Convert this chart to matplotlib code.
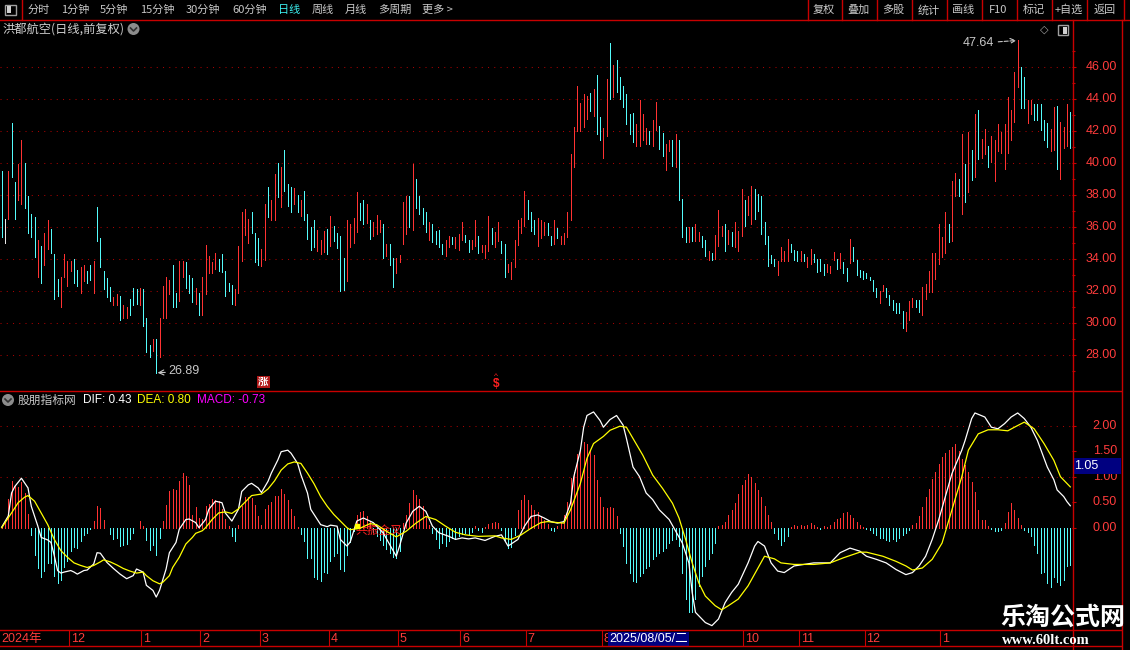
import matplotlib
matplotlib.use("Agg")
import matplotlib.pyplot as plt
from matplotlib.patches import Rectangle, Circle

plt.rcParams['font.family'] = ['Noto Sans CJK SC', 'DejaVu Sans']

# ---- daily bars: high / low / direction (1 up, -1 down, 0 flat) ----
high = [39.5, 36.5, 39.5, 42.5, 38.8, 39.9, 41.4, 40.0, 37.9, 36.8,
        36.6, 35.2, 34.8, 35.6, 36.4, 35.9, 34.3, 32.75, 32.9, 34.3,
        33.9, 33.9, 34.0, 33.3, 33.5, 33.6, 33.25, 33.6, 33.85, 37.25,
        35.3, 33.25, 32.8, 32.25, 31.6, 31.8, 31.7, 31.1, 31.0, 31.5,
        32.2, 32.1, 32.2, 32.1, 30.3, 28.6, 29.0, 29.0, 30.3, 32.3,
        32.9, 32.7, 33.6, 31.9, 33.9, 33.9, 33.8, 33.0, 32.8, 32.2,
        31.9, 32.9, 34.9, 34.2, 33.8, 34.4, 34.0, 34.3, 33.25, 32.5,
        32.4, 32.1, 34.8, 36.9, 37.1, 36.5, 36.9, 35.6, 35.3, 34.62,
        37.40, 38.52, 37.65, 39.31, 39.98, 39.73, 40.83, 38.65, 38.52, 38.40,
        38.02, 37.65, 38.27, 36.83, 36.02, 36.46, 35.81, 35.21, 35.77, 35.90,
        36.65, 36.08, 35.65, 35.46, 34.08, 36.46, 36.21, 36.58, 38.15, 37.52,
        37.65, 37.40, 36.46, 36.33, 36.77, 36.40, 36.21, 34.96, 34.96, 34.08,
        34.08, 34.27, 37.58, 37.96, 37.96, 39.90, 38.96, 37.90, 37.15, 36.96,
        36.33, 36.15, 35.77, 35.83, 34.96, 35.21, 35.46, 35.40, 35.40, 35.58,
        36.33, 35.52, 35.21, 35.21, 36.46, 35.46, 34.90, 34.90, 36.71, 35.96,
        35.71, 36.33, 35.15, 34.96, 33.71, 33.83, 35.21, 36.46, 36.58, 38.21,
        37.65, 36.96, 36.40, 36.58, 36.46, 36.33, 36.27, 35.46, 36.46, 35.96,
        35.46, 35.65, 36.96, 40.52, 42.21, 44.77, 43.71, 44.27, 44.15, 44.33,
        44.58, 45.46, 42.83, 42.15, 45.21, 47.46, 46.08, 46.40, 45.35, 44.77,
        44.27, 43.06, 43.10, 42.40, 43.90, 43.02, 42.19, 41.98, 42.65, 43.79,
        42.27, 41.85, 41.19, 41.40, 41.40, 41.77, 41.40, 37.75, 36.02, 36.02,
        35.98, 36.15, 35.67, 35.46, 35.19, 34.52, 34.35, 35.52, 37.06, 36.08,
        36.19, 35.81, 35.67, 36.33, 35.77, 38.37, 37.65, 37.96, 38.58, 38.37,
        38.06, 37.90, 36.29, 35.46, 34.27, 34.00, 33.90, 34.77, 34.52, 35.25,
        34.94, 34.56, 34.52, 34.52, 34.31, 34.10, 34.62, 34.31, 34.00, 34.00,
        33.69, 33.69, 33.58, 34.42, 34.00, 34.35, 33.79, 33.44, 35.25, 34.77,
        33.94, 33.31, 33.23, 33.10, 32.90, 32.69, 32.19, 31.98, 32.40, 32.19,
        31.77, 31.44, 31.23, 31.23, 30.77, 30.67, 31.35, 31.56, 31.44, 31.44,
        32.27, 32.44, 33.27, 34.35, 34.35, 36.15, 35.35, 36.92, 36.19, 38.85,
        39.35, 39.00, 41.81, 39.94, 41.92, 40.77, 43.02, 43.31, 41.50, 42.12,
        41.08, 41.65, 41.40, 42.40, 41.92, 42.44, 44.10, 43.31, 45.67, 47.64,
        45.98, 45.35, 43.90, 43.90, 43.69, 43.65, 43.65, 42.65, 42.48, 42.12,
        43.48, 43.52, 42.54, 42.23, 43.65, 43.17]

low = [35.4, 35.0, 36.5, 39.1, 36.5, 37.7, 37.4, 37.2, 35.6, 35.4,
       34.1, 32.9, 32.5, 33.6, 34.6, 34.4, 31.5, 31.7, 31.0, 32.9,
       32.3, 33.25, 32.5, 32.3, 31.9, 32.6, 32.5, 32.7, 31.9, 35.1,
       33.5, 32.1, 31.6, 31.4, 31.1, 31.1, 30.2, 30.3, 30.3, 30.5,
       31.1, 31.2, 31.15, 29.8, 28.2, 27.9, 28.25, 26.89, 27.9, 30.3,
       30.3, 31.8, 31.0, 31.0, 31.4, 32.9, 32.2, 31.9, 31.3, 31.2,
       30.5, 30.5, 31.8, 33.1, 33.1, 33.4, 33.25, 33.2, 31.7, 32.0,
       31.2, 31.1, 31.9, 33.9, 35.5, 35.0, 35.65, 33.8, 33.6, 33.58,
       33.96, 36.60, 36.46, 36.46, 37.85, 37.27, 38.21, 37.33, 36.92, 37.40,
       36.90, 36.65, 36.46, 35.27, 34.58, 34.77, 34.52, 34.33, 34.46, 34.33,
       34.83, 35.15, 34.71, 31.98, 32.08, 32.65, 34.77, 35.02, 35.71, 36.40,
       36.15, 36.27, 35.27, 35.46, 35.58, 35.71, 34.08, 34.21, 33.65, 32.27,
       33.15, 33.83, 34.96, 35.58, 36.02, 35.83, 37.15, 36.83, 36.21, 35.71,
       35.21, 35.08, 34.96, 34.77, 34.33, 34.21, 34.77, 34.96, 34.71, 34.58,
       35.21, 35.08, 34.46, 34.65, 34.83, 34.40, 34.46, 34.08, 34.52, 34.96,
       34.77, 35.15, 34.40, 32.90, 33.21, 32.77, 33.52, 34.90, 35.65, 36.08,
       36.52, 35.77, 35.58, 34.83, 35.33, 35.52, 35.52, 34.90, 34.96, 35.33,
       34.96, 34.96, 35.40, 36.40, 39.77, 41.96, 41.96, 42.21, 42.71, 43.21,
       42.90, 41.77, 41.40, 40.33, 41.65, 43.96, 44.10, 44.42, 44.00, 43.48,
       42.40, 41.77, 41.29, 41.08, 41.08, 41.40, 41.15, 41.15, 41.08, 42.06,
       40.87, 40.40, 39.56, 40.73, 39.83, 39.77, 37.65, 35.40, 35.04, 35.04,
       35.10, 35.10, 35.15, 34.77, 34.21, 33.94, 33.94, 34.00, 34.83, 35.46,
       34.52, 34.94, 34.83, 34.73, 34.48, 35.46, 36.08, 36.77, 36.15, 36.50,
       37.02, 35.56, 34.94, 33.58, 33.73, 33.58, 33.02, 33.85, 33.90, 33.90,
       34.42, 33.94, 33.90, 33.90, 33.85, 33.48, 33.69, 33.79, 33.17, 33.23,
       33.02, 33.17, 33.10, 33.94, 33.37, 33.44, 33.10, 32.65, 33.73, 33.90,
       33.02, 32.90, 32.75, 32.81, 32.69, 32.02, 31.65, 31.23, 32.02, 31.60,
       31.15, 30.81, 30.60, 30.60, 29.69, 29.48, 30.19, 30.98, 30.98, 30.67,
       30.52, 31.50, 31.92, 31.92, 32.75, 33.69, 34.10, 34.35, 35.04, 35.10,
       37.96, 37.96, 36.81, 37.54, 38.17, 38.90, 39.10, 40.25, 40.31, 40.52,
       39.73, 40.04, 38.85, 40.73, 40.60, 39.62, 40.60, 41.40, 42.54, 44.73,
       43.44, 43.44, 42.48, 43.02, 42.69, 42.65, 42.02, 41.40, 40.98, 40.73,
       40.81, 39.62, 39.00, 40.94, 41.02, 40.94]

updown = [-1, 0, 1, -1, -1, 1, 1, -1, -1, -1,
          -1, 1, -1, 1, 1, -1, -1, -1, 1, 1,
          1, 1, -1, -1, 1, 1, -1, -1, 1, -1,
          -1, -1, -1, -1, 1, 1, -1, 1, 1, -1,
          -1, -1, 1, -1, -1, -1, 1, -1, 1, 1,
          1, 1, -1, -1, 1, 1, -1, -1, -1, 1,
          -1, 1, 1, 1, 1, 1, -1, -1, -1, -1,
          -1, 1, 1, 1, 1, 1, -1, -1, -1, 1,
          1, -1, 1, 1, -1, 1, -1, -1, -1, 1,
          -1, 1, -1, -1, -1, -1, 1, 1, 1, -1,
          1, -1, -1, -1, -1, 1, 1, 1, 1, -1,
          -1, 1, -1, 1, 1, 1, -1, 1, -1, -1,
          1, 1, 1, 1, -1, 1, -1, -1, -1, -1,
          1, -1, -1, -1, -1, 1, 1, -1, 1, 1,
          1, -1, -1, 1, 1, -1, 1, 1, 1, -1,
          1, 1, -1, -1, 1, 1, 1, 1, 1, 1,
          -1, -1, -1, 1, 1, 1, -1, -1, 1, -1,
          1, 1, 1, 1, 1, 1, 1, 1, 1, -1,
          1, -1, -1, 1, 1, -1, 1, -1, -1, -1,
          -1, -1, -1, 1, 1, 1, 1, -1, 1, 1,
          -1, -1, 1, 1, -1, 1, -1, -1, -1, 1,
          -1, 1, 1, -1, -1, 1, -1, 1, 1, 1,
          -1, 1, -1, 1, 1, 1, -1, 1, 1, -1,
          -1, -1, -1, -1, -1, -1, 1, 1, 1, 1,
          -1, -1, -1, 1, -1, 1, 1, -1, -1, -1,
          -1, 1, 1, 1, -1, 1, -1, -1, 1, -1,
          -1, -1, -1, -1, -1, -1, -1, 1, 1, -1,
          -1, -1, -1, -1, -1, 1, 1, 1, -1, -1,
          1, 1, 1, 1, 1, 1, 1, 1, -1, 1,
          1, -1, 1, -1, 1, -1, 1, -1, 1, 1,
          -1, 1, 1, 1, 1, 1, 1, 1, 1, 1,
          -1, -1, 1, 1, -1, -1, -1, -1, -1, 1,
          1, -1, 1, 1, 1, -1]

# ---- MACD histogram, one value per bar ----
macd_hist = [0.02, 0.13, 0.56, 0.91, 0.82, 0.80, 0.89, 0.69, 0.26, -0.15,
             -0.53, -0.79, -0.96, -0.84, -0.69, -0.69, -0.94, -1.09, -1.02, -0.78,
             -0.65, -0.45, -0.38, -0.40, -0.26, -0.15, -0.10, -0.02, 0.14, 0.43,
             0.38, 0.16, -0.01, -0.13, -0.23, -0.21, -0.36, -0.34, -0.31, -0.23,
             -0.11, -0.01, 0.14, 0.03, -0.25, -0.43, -0.34, -0.53, -0.21, 0.14,
             0.45, 0.72, 0.76, 0.74, 0.92, 1.08, 1.02, 0.84, 0.24, 0.41,
             0.19, 0.18, 0.42, 0.47, 0.56, 0.54, 0.52, 0.36, 0.18, 0.03,
             -0.16, -0.26, 0.06, 0.42, 0.60, 0.61, 0.58, 0.45, 0.23, 0.05,
             0.36, 0.45, 0.50, 0.63, 0.63, 0.76, 0.67, 0.55, 0.36, 0.23,
             0.02, -0.13, -0.26, -0.60, -0.60, -0.96, -1.00, -1.04, -0.87, -0.89,
             -0.65, -0.56, -0.49, -0.81, -0.84, -0.53, -0.29, -0.06, 0.24, 0.30,
             0.33, 0.23, 0.12, -0.08, -0.17, -0.24, -0.33, -0.42, -0.50, -0.57,
             -0.59, -0.45, 0.09, 0.25, 0.48, 0.73, 0.64, 0.56, 0.42, 0.22,
             0.05, -0.10, -0.23, -0.40, -0.30, -0.36, -0.27, -0.20, -0.23, -0.17,
             -0.12, -0.10, -0.12, -0.08, 0.03, -0.05, -0.08, 0.02, 0.08, 0.10,
             0.12, 0.10, -0.05, -0.25, -0.40, -0.38, -0.15, 0.35, 0.55, 0.64,
             0.55, 0.45, 0.35, 0.30, 0.22, 0.15, 0.08, -0.05, -0.07, 0.03,
             0.10, 0.25, 0.50, 0.97, 1.10, 1.45, 1.55, 1.68, 1.65, 1.52,
             1.42, 0.93, 0.61, 0.41, 0.38, 0.41, 0.38, 0.22, -0.10, -0.36,
             -0.69, -0.88, -1.05, -1.07, -0.95, -0.88, -0.79, -0.75, -0.62, -0.55,
             -0.49, -0.45, -0.40, -0.30, -0.24, -0.23, -0.36, -0.88, -1.40, -1.66,
             -1.66, -1.40, -1.14, -0.95, -0.75, -0.62, -0.49, -0.30, 0.03, 0.05,
             0.12, 0.25, 0.35, 0.48, 0.67, 0.84, 0.94, 1.05, 0.99, 0.87,
             0.74, 0.61, 0.42, 0.25, 0.12, -0.10, -0.23, -0.33, -0.27, -0.17,
             0.02, 0.05, 0.04, 0.06, 0.03, 0.06, 0.10, 0.05, 0.02, -0.02,
             0.03, 0.02, 0.06, 0.12, 0.18, 0.20, 0.29, 0.30, 0.25, 0.20,
             0.12, 0.06, 0.02, -0.02, -0.05, -0.10, -0.15, -0.20, -0.20, -0.25,
             -0.27, -0.22, -0.27, -0.20, -0.14, -0.10, -0.05, 0.05, 0.10, 0.22,
             0.40, 0.60, 0.75, 0.95, 1.10, 1.25, 1.38, 1.47, 1.52, 1.58,
             1.65, 1.50, 1.35, 1.22, 1.10, 0.90, 0.70, 0.35, 0.15, 0.16,
             0.04, -0.03, -0.07, -0.07, -0.05, 0.10, 0.30, 0.48, 0.35, 0.19,
             0.05, -0.05, -0.08, -0.16, -0.34, -0.50, -0.88, -0.86, -1.09, -1.16,
             -0.96, -1.06, -1.12, -1.03, -0.76, -0.73]

# DIF / DEA read at (bar, value) points
dif_pts = [(0, 0.01), (2, 0.23), (3, 0.68), (4, 0.81), (6, 0.97), (8, 0.78), (9, 0.42), (11, 0.03),
           (12, -0.19), (14, -0.24), (15, -0.29), (16, -0.55), (17, -0.84), (18, -0.89), (19, -0.87),
           (21, -0.84), (22, -0.87), (23, -0.91), (25, -0.84), (26, -0.83), (28, -0.71), (29, -0.49),
           (30, -0.50), (32, -0.68), (34, -0.80), (36, -0.91), (38, -1.00), (40, -0.94), (41, -0.81),
           (43, -0.87), (44, -1.13), (46, -1.23), (47, -1.36), (48, -1.23), (50, -0.81), (51, -0.49),
           (53, -0.29), (54, -0.03), (56, 0.16), (57, 0.17), (59, 0.10), (60, 0.00), (62, 0.16),
           (63, 0.36), (65, 0.52), (67, 0.49), (68, 0.29), (70, 0.13), (72, 0.36), (73, 0.71),
           (75, 0.84), (76, 0.87), (78, 0.78), (79, 0.69), (81, 0.91), (82, 1.07), (84, 1.33),
           (85, 1.49), (87, 1.52), (88, 1.46), (90, 1.26), (91, 1.04), (93, 0.68), (94, 0.36),
           (96, 0.16), (97, 0.06), (99, 0.02), (100, 0.05), (102, 0.03), (103, -0.23), (105, -0.36),
           (106, -0.28), (108, 0.13), (110, 0.19), (113, 0.10), (116, -0.10), (118, -0.33), (120, -0.56),
           (121, -0.36), (123, 0.09), (125, 0.32), (127, 0.42), (129, 0.32), (131, 0.03), (133, -0.10),
           (136, -0.17), (138, -0.23), (140, -0.20), (142, -0.22), (144, -0.20), (147, -0.25),
           (150, -0.17), (152, -0.14), (154, -0.36), (157, -0.23), (159, 0.03), (161, 0.22),
           (163, 0.25), (165, 0.19), (167, 0.12), (169, 0.09), (171, 0.12), (173, 0.48), (174, 1.00),
           (176, 1.52), (177, 1.97), (178, 2.20), (180, 2.27), (182, 2.10), (183, 1.97), (185, 2.12),
           (187, 2.20), (189, 2.01), (190, 1.75), (192, 1.19), (194, 1.00), (196, 0.68), (198, 0.55),
           (200, 0.35), (203, 0.16), (205, -0.07), (207, -0.30), (209, -0.69), (210, -1.27),
           (211, -1.66), (214, -1.86), (216, -1.92), (218, -1.79), (220, -1.47), (222, -1.27),
           (224, -1.11), (227, -0.69), (229, -0.36), (230, -0.27), (232, -0.36), (234, -0.69),
           (236, -0.85), (238, -0.88), (241, -0.75), (244, -0.72), (247, -0.69), (249, -0.69),
           (252, -0.69), (255, -0.49), (258, -0.40), (261, -0.46), (263, -0.56), (266, -0.62),
           (269, -0.69), (272, -0.82), (275, -0.92), (277, -0.88), (279, -0.75), (281, -0.56),
           (283, -0.23), (285, 0.16), (287, 0.61), (289, 1.06), (292, 1.52), (293, 1.71), (295, 2.14),
           (296, 2.25), (299, 2.17), (301, 1.97), (303, 1.94), (305, 2.04), (307, 2.17), (309, 2.25),
           (311, 2.14), (313, 1.97), (315, 1.71), (318, 1.19), (320, 0.94), (321, 0.74), (323, 0.61),
           (324, 0.51), (325, 0.43)]

dea_pts = [(0, 0.00), (3, 0.29), (5, 0.49), (7, 0.60), (8, 0.63), (10, 0.52), (12, 0.29), (14, 0.06),
           (16, -0.23), (18, -0.45), (20, -0.58), (22, -0.69), (24, -0.74), (26, -0.78), (28, -0.74),
           (30, -0.67), (31, -0.63), (33, -0.67), (35, -0.73), (37, -0.80), (39, -0.85), (41, -0.89),
           (43, -0.87), (44, -0.94), (46, -1.04), (48, -1.10), (49, -1.07), (51, -0.94), (52, -0.78),
           (54, -0.58), (56, -0.32), (58, -0.19), (59, -0.11), (61, -0.06), (62, 0.00), (64, 0.16),
           (66, 0.29), (68, 0.31), (70, 0.28), (72, 0.37), (74, 0.50), (76, 0.63), (79, 0.66),
           (81, 0.76), (83, 0.92), (85, 1.13), (87, 1.25), (89, 1.29), (91, 1.26), (93, 1.07),
           (95, 0.86), (97, 0.61), (99, 0.42), (101, 0.26), (103, 0.13), (105, 0.00), (106, -0.04),
           (109, -0.01), (112, 0.08), (114, 0.06), (117, -0.07), (120, -0.18), (123, -0.07),
           (126, 0.09), (129, 0.22), (132, 0.16), (135, 0.03), (138, -0.09), (141, -0.14),
           (145, -0.17), (150, -0.16), (152, -0.20), (155, -0.23), (158, -0.14), (161, -0.01),
           (164, 0.10), (166, 0.12), (169, 0.10), (171, 0.09), (173, 0.35), (176, 0.87), (178, 1.36),
           (180, 1.65), (183, 1.79), (185, 1.91), (188, 1.99), (190, 1.97), (192, 1.75), (195, 1.42),
           (198, 1.03), (201, 0.77), (204, 0.48), (206, 0.19), (208, -0.23), (210, -0.69),
           (212, -1.08), (214, -1.34), (217, -1.53), (219, -1.61), (221, -1.53), (224, -1.40),
           (227, -1.14), (230, -0.79), (232, -0.56), (235, -0.61), (237, -0.69), (241, -0.72),
           (247, -0.72), (252, -0.69), (256, -0.59), (261, -0.48), (263, -0.48), (268, -0.56),
           (272, -0.66), (275, -0.75), (277, -0.83), (280, -0.79), (283, -0.62), (286, -0.30),
           (289, 0.35), (292, 1.00), (294, 1.52), (297, 1.84), (300, 1.92), (303, 1.92), (306, 1.90),
           (308, 1.97), (311, 2.07), (314, 1.94), (317, 1.65), (320, 1.32), (322, 1.00), (325, 0.80)]

price_ticks = [28, 30, 32, 34, 36, 38, 40, 42, 44, 46]
macd_ticks = [0.0, 0.5, 1.0, 1.5, 2.0]
month_pos = [0, 21, 43, 61, 79, 100, 121, 140, 160, 183, 226, 243, 263, 286]
month_lab = ['2024年', '12', '1', '2', '3', '4', '5', '6', '7', '8', '10', '11', '12', '1']
low_idx, low_val = 47, 26.89
top_idx, top_val = 309, 47.64
dif_last, dea_last, macd_last = 0.43, 0.80, -0.73
cursor_idx, cursor_date = 185, '2025/08/05/二'
cursor_value = '1.05'
zhang_idx = 80
dollar_idx = 151
gold_idx, gold_val = 108, 0.03

RED = '#ff3232'
CYAN = '#54fcfc'
GRID = '#a80000'
AXRED = '#c80000'
LBL = '#ff3c3c'
NUMF = ['Liberation Sans', 'DejaVu Sans']

W, H = 1130, 650
fig = plt.figure(figsize=(W / 100, H / 100), dpi=100, facecolor='black')

n = len(high)
xs = list(range(n))
xl = (-1.7 / 3.288, (1072 - 1.7) / 3.288)

# ---------- main price panel ----------
ax = fig.add_axes([0, 1 - 390 / H, 1072 / W, (390 - 20) / H], facecolor='black')
ax.set_xlim(*xl)
ax.set_ylim(46 - (390 - 66.7) / 16.02, 46 + (66.7 - 20) / 16.02)
for t in price_ticks:
    ax.axhline(t, color=GRID, lw=0.75, ls=(0, (1, 5)), zorder=1)
cmap = {1: RED, -1: CYAN, 0: '#e8e8e8'}
ax.vlines(xs, low, high, colors=[cmap[d] for d in updown], lw=0.65,
          antialiased=False, zorder=3)
for s in ax.spines.values():
    s.set_visible(False)
ax.set_xticks([])
ax.set_yticks(price_ticks)
ax.set_yticks([t + 1 for t in price_ticks] + [27], minor=True)
ax.tick_params(axis='y', which='both', left=False, right=True, labelleft=False,
               labelright=False, direction='out', color=AXRED, width=0.8)
ax.tick_params(axis='y', which='major', length=3)
ax.tick_params(axis='y', which='minor', length=1.8)
for t in price_ticks:
    ax.text(1117 / 1072, t, f'{t:.2f}', transform=ax.get_yaxis_transform(), ha='right',
            va='center', color=LBL, fontsize=9, family=NUMF, clip_on=False)

ax.annotate(f'{low_val:.2f}', xy=(low_idx, low_val), xytext=(8.5, 1), textcoords='offset points',
            ha='left', va='center', color='#c8c8c8', fontsize=9, family=NUMF,
            arrowprops=dict(arrowstyle='->', color='#c8c8c8', lw=0.8, shrinkA=0, shrinkB=1))
ax.annotate(f'{top_val:.2f}', xy=(top_idx, top_val), xytext=(-17, -2), textcoords='offset points',
            ha='right', va='center', color='#c8c8c8', fontsize=9, family=NUMF,
            arrowprops=dict(arrowstyle='->', color='#c8c8c8', lw=0.8, ls='--', shrinkA=1, shrinkB=1))
ax.text(zhang_idx - 0.4, 0.022, '涨', transform=ax.get_xaxis_transform(), ha='center', va='center',
        color='white', fontsize=7.5, fontweight='bold',
        bbox=dict(boxstyle='square,pad=0.12', fc='#b01818', ec='none'))
ax.text(dollar_idx - 0.6, 0.016, '$', transform=ax.get_xaxis_transform(), ha='center', va='center',
        color='#ff2020', fontsize=8.5, family=NUMF, fontweight='bold')
ax.text(dollar_idx - 0.6, 0.036, '^', transform=ax.get_xaxis_transform(), ha='center', va='center',
        color='#ff2020', fontsize=6, family=NUMF)

# ---------- MACD panel ----------
am = fig.add_axes([0, 1 - 629 / H, 1072 / W, (629 - 392) / H], facecolor='black')
am.set_xlim(*xl)
am.set_ylim((527.7 - 629) / 51.0, (527.7 - 392) / 51.0)
for t in (1.0, 2.0):
    am.axhline(t, color=GRID, lw=0.75, ls=(0, (1, 5)), zorder=1)
am.vlines(xs, 0, macd_hist, colors=[RED if v >= 0 else CYAN for v in macd_hist], lw=0.65,
          antialiased=False, zorder=2)
am.text(gold_idx - 0.5, -0.06, '共振金叉', color='#ff2020', fontsize=8.5, ha='left', va='center', zorder=2.5)
am.plot([p[0] for p in dif_pts], [p[1] for p in dif_pts], color='white', lw=0.9, zorder=4)
am.plot([p[0] for p in dea_pts], [p[1] for p in dea_pts], color='#ffff00', lw=0.9, zorder=4)
am.plot([gold_idx], [gold_val], marker='s', ms=3, color='#ffff00', zorder=5)
for s in am.spines.values():
    s.set_visible(False)
am.set_xticks([])
am.set_yticks(macd_ticks)
am.tick_params(axis='y', left=False, right=True, labelleft=False, labelright=False,
               direction='out', color=AXRED, width=0.8, length=3)
for t in macd_ticks:
    am.text(1117 / 1072, t, f'{t:.2f}', transform=am.get_yaxis_transform(), ha='right',
            va='center', color=LBL, fontsize=9, family=NUMF, clip_on=False)

# ---------- date row ----------
ad = fig.add_axes([0, 1 - 646 / H, 1072 / W, 16 / H], facecolor='black')
ad.set_xlim(*xl)
ad.set_ylim(0, 1)
ad.axis('off')
for p, lab in zip(month_pos, month_lab):
    if p > 0:
        ad.vlines(p - 0.55, 0, 1, colors=AXRED, lw=0.8)
    ad.text(p, 0.45, lab, color=LBL, fontsize=9, family=['Liberation Sans', 'Noto Sans CJK SC'],
            ha='left', va='center')
ad.text(cursor_idx - 0.3, 0.45, cursor_date, color='white', fontsize=9,
        family=['Liberation Sans', 'Noto Sans CJK SC'], ha='left', va='center',
        bbox=dict(boxstyle='square,pad=0.1', fc='#000080', ec='none'))

# ---------- screen chrome (pixel coordinates) ----------
dk = fig.add_axes([0, 0, 1, 1], zorder=10)
dk.set_xlim(0, W)
dk.set_ylim(H, 0)
dk.axis('off')

dk.plot([0, W], [19.5, 19.5], color=AXRED, lw=1)
dk.plot([0, 1121], [390.5, 390.5], color=AXRED, lw=1)
dk.plot([0, 1121], [629.5, 629.5], color=AXRED, lw=1)
dk.plot([0, 1121], [646, 646], color=AXRED, lw=1)
dk.plot([1072.5, 1072.5], [19.5, H], color=AXRED, lw=1)
dk.plot([1121.5, 1121.5], [19.5, H], color=AXRED, lw=1)
dk.plot([21.5, 21.5], [0, 19.5], color=AXRED, lw=1)

# top-left icon
dk.add_patch(Rectangle((5, 4.5), 11, 10, fill=False, ec='#a0a0a0', lw=1))
dk.add_patch(Rectangle((6.5, 6), 4, 7, fc='#d0d0d0', ec='none'))

toolbar = [('分时', 28), ('1分钟', 61), ('5分钟', 100), ('15分钟', 140), ('30分钟', 186),
           ('60分钟', 232), ('日线', 278), ('周线', 312), ('月线', 345), ('多周期', 378), ('更多 >', 422)]
for lab, x in toolbar:
    dk.text(x, 10, lab, color='#3cf0f0' if lab == '日线' else '#c8c8c8', fontsize=8,
            ha='left', va='center')

seps = [807, 841, 876, 911, 946, 981, 1016, 1051, 1086, 1123]
buttons = ['复权', '叠加', '多股', '统计', '画线', 'F10', '标记', '+自选', '返回']
for x in seps:
    dk.plot([x + 0.5, x + 0.5], [0, 19.5], color=AXRED, lw=1)
for i, lab in enumerate(buttons):
    dk.text((seps[i] + seps[i + 1]) / 2, 10, lab, color='#c8c8c8', fontsize=8,
            ha='center', va='center')

dk.text(2, 29, '洪都航空(日线,前复权)', color='#d0d0d0', fontsize=8.8, ha='left', va='center')


def chevron_circle(cx, cy):
    dk.add_patch(Circle((cx, cy), 6, fc='#8c8c8c', ec='none'))
    dk.plot([cx - 3, cx, cx + 3], [cy - 1, cy + 2, cy - 1], color='#303030', lw=1.2)


chevron_circle(133.5, 29)
chevron_circle(8, 400)

dk.text(1044, 30, '◇', color='#a0a0a0', fontsize=8, family='DejaVu Sans', ha='center', va='center')
dk.add_patch(Rectangle((1058, 25), 10, 10, fill=False, ec='#a0a0a0', lw=1))
dk.add_patch(Rectangle((1063, 26.5), 3.5, 7, fc='#d0d0d0', ec='none'))

dk.text(18, 400, '股朋指标网', color='#c8c8c8', fontsize=8.5, ha='left', va='center')
dk.text(83, 400, f'DIF: {dif_last:.2f}', color='white', fontsize=8.5, family=NUMF, ha='left', va='center')
dk.text(137, 400, f'DEA: {dea_last:.2f}', color='#ffff00', fontsize=8.5, family=NUMF, ha='left', va='center')
dk.text(197, 400, f'MACD: {macd_last:.2f}', color='#ff00ff', fontsize=8.5, family=NUMF, ha='left', va='center')

dk.add_patch(Rectangle((1073, 458), 48, 16, fc='#000080', ec='none'))
dk.text(1074, 466, cursor_value, color='white', fontsize=9, family=NUMF, ha='left', va='center')

dk.text(1063, 618, '乐淘公式网', color='white', fontsize=18, fontweight='bold', ha='center', va='center')
dk.text(1046, 640, 'www.60lt.com', color='white', fontsize=10.5, fontweight='bold',
        family=['Liberation Serif', 'DejaVu Serif'], ha='center', va='center')

fig.savefig('out.png', dpi=100, facecolor='black')
